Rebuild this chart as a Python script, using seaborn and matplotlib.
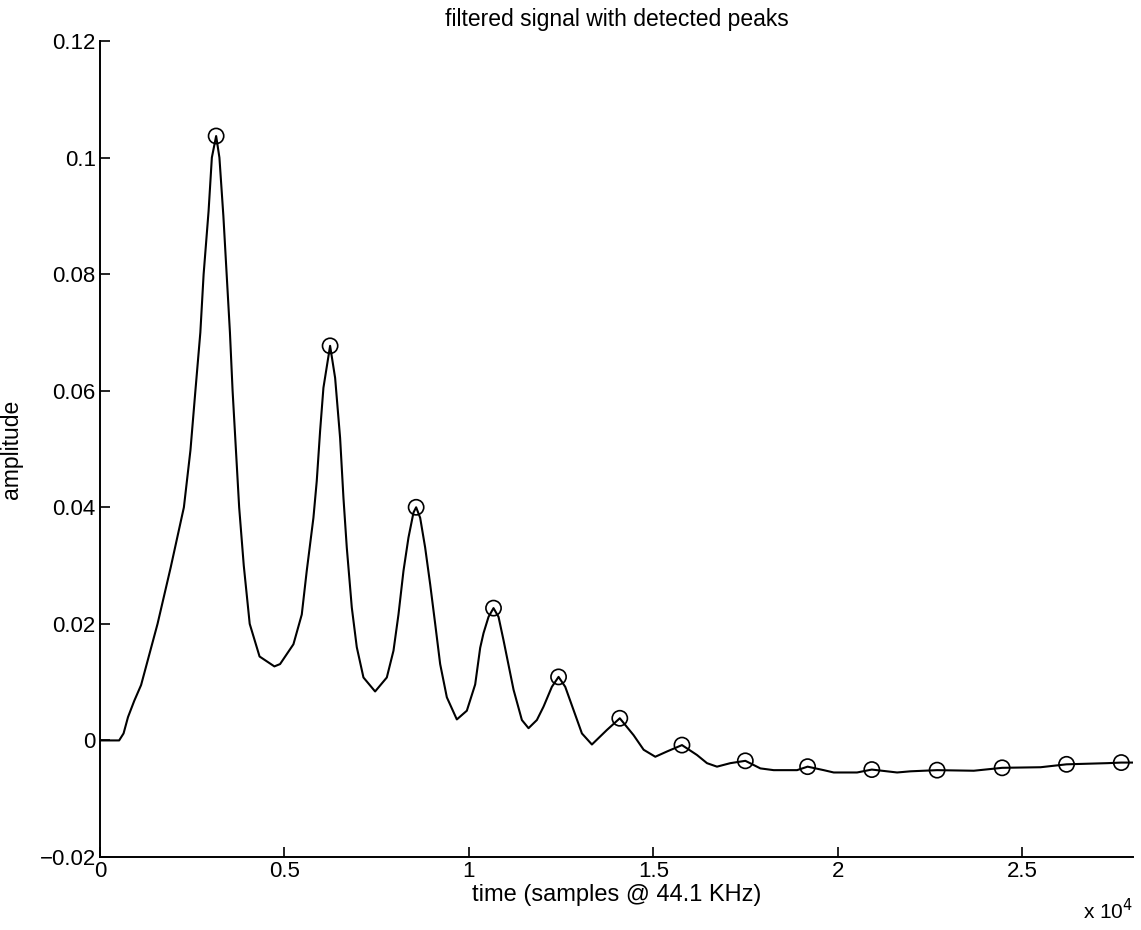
#!/usr/bin/env python3
"""
Filtered signal with detected peaks, redrawn in the old MATLAB style.
"""

import matplotlib

matplotlib.use("Agg")

import matplotlib.pyplot as plt
import matplotlib.ticker as mticker
import pandas as pd
import seaborn as sns

# signal (sample index, amplitude)
signal_t = [
    0, 520, 640, 760, 930, 1115, 1561, 1918, 2275, 2453, 2587, 2721, 2810, 2944,
    3033, 3149, 3238, 3345, 3434, 3523, 3595, 3684, 3773, 3898, 4059, 4326,
    4728, 4882, 5244, 5470, 5605, 5786, 5876, 5967, 6057, 6238, 6374, 6509,
    6600, 6690, 6826, 6961, 7142, 7458, 7775, 7956, 8091, 8227, 8362, 8498,
    8570, 8679, 8814, 8950, 9086, 9221, 9402, 9673, 9944, 10170, 10306, 10396,
    10532, 10667, 10803, 10938, 11210, 11436, 11616, 11842, 12023, 12249,
    12430, 12611, 12837, 13063, 13334, 13741, 14090, 14464, 14736, 15052,
    15368, 15775, 16182, 16453, 16724, 17086, 17493, 17900, 18261, 18894,
    19180, 19617, 19888, 20521, 20920, 21606, 21967, 22690, 23685, 24453,
    25493, 26198, 27301, 27682, 28024,
]
signal_y = [
    0.0, 0.0, 0.0012, 0.0040, 0.0068, 0.0095, 0.0200, 0.0297, 0.0400, 0.0498,
    0.0600, 0.0700, 0.0800, 0.0908, 0.1000, 0.1037, 0.1000, 0.0900, 0.0800,
    0.0700, 0.0600, 0.0500, 0.0400, 0.0300, 0.0200, 0.0144, 0.0127, 0.0131,
    0.0165, 0.0216, 0.0291, 0.0382, 0.0445, 0.0531, 0.0605, 0.0677, 0.0622,
    0.0519, 0.0416, 0.0331, 0.0228, 0.0160, 0.0108, 0.0084, 0.0108, 0.0154,
    0.0216, 0.0291, 0.0348, 0.0391, 0.0400, 0.0382, 0.0331, 0.0268, 0.0200,
    0.0131, 0.0074, 0.0036, 0.0051, 0.0096, 0.0159, 0.0184, 0.0212, 0.0227,
    0.0212, 0.0172, 0.0087, 0.0035, 0.0021, 0.0035, 0.0058, 0.0092, 0.0109,
    0.0092, 0.0052, 0.0012, -0.0007, 0.0018, 0.0038, 0.0009, -0.0016,
    -0.0028, -0.0019, -0.0008, -0.0025, -0.0039, -0.0045, -0.0039, -0.0035,
    -0.0048, -0.0051, -0.0051, -0.0045, -0.0051, -0.0055, -0.0055, -0.0050,
    -0.0055, -0.0053, -0.0051, -0.0052, -0.0047, -0.0046, -0.0041, -0.0039,
    -0.0038, -0.0038,
]

# detected peaks (circles)
peak_t = [3149, 6238, 8570, 10667, 12430, 14090, 15775, 17492, 19180, 20920,
          22690, 24453, 26198, 27682]
peak_y = [0.1037, 0.0677, 0.0400, 0.0227, 0.0109, 0.0038, -0.0008, -0.0035,
          -0.0045, -0.0050, -0.0051, -0.0047, -0.0041, -0.0038]

x_ticks = [0, 5000, 10000, 15000, 20000, 25000]
x_tick_labels = ["0", "0.5", "1", "1.5", "2", "2.5"]
y_ticks = [-0.02, 0.0, 0.02, 0.04, 0.06, 0.08, 0.1, 0.12]
y_tick_labels = ["\u22120.02", "0", "0.02", "0.04", "0.06", "0.08", "0.1", "0.12"]


def main() -> None:
    sns.set_theme(style="ticks")
    plt.rcParams["font.family"] = ["Liberation Sans", "DejaVu Sans"]
    plt.rcParams["text.color"] = "black"
    plt.rcParams["axes.labelcolor"] = "black"

    sig = pd.DataFrame({"t": signal_t, "y": signal_y})
    peaks = pd.DataFrame({"t": peak_t, "y": peak_y})

    fig = plt.figure(figsize=(11.41, 9.30), dpi=100)
    ax = fig.add_axes([0.0876, 0.0785, 0.9054, 0.8774])

    sns.lineplot(data=sig, x="t", y="y", sort=False, estimator=None,
                 color="black", linewidth=1.5, ax=ax)
    sns.scatterplot(data=peaks, x="t", y="y", marker="o", s=120,
                    facecolor="none", edgecolor="black", linewidth=1.2, ax=ax)

    ax.set_xlim(0, 28000)
    ax.set_ylim(-0.02, 0.12)
    ax.set_xticks(x_ticks)
    ax.xaxis.set_major_formatter(mticker.FixedFormatter(x_tick_labels))
    ax.set_yticks(y_ticks)
    ax.yaxis.set_major_formatter(mticker.FixedFormatter(y_tick_labels))

    for side in ("top", "right"):
        ax.spines[side].set_visible(False)
    for side in ("left", "bottom"):
        ax.spines[side].set_linewidth(1.4)
        ax.spines[side].set_color("black")
    ax.tick_params(direction="in", length=7, width=1.2, labelsize=16,
                   colors="black", pad=3)

    ax.set_title("filtered signal with detected peaks", fontsize=16.5, pad=11,
                 color="black")
    ax.set_xlabel("time (samples @ 44.1 KHz)", fontsize=17, labelpad=1)
    ax.set_ylabel("amplitude", fontsize=16.5, labelpad=12)
    ax.text(1.0, -0.05, "x 10$^4$", transform=ax.transAxes, ha="right",
            va="top", fontsize=15, color="black")

    fig.savefig("out.png", dpi=100, facecolor="white")
    plt.close(fig)


if __name__ == "__main__":
    main()
